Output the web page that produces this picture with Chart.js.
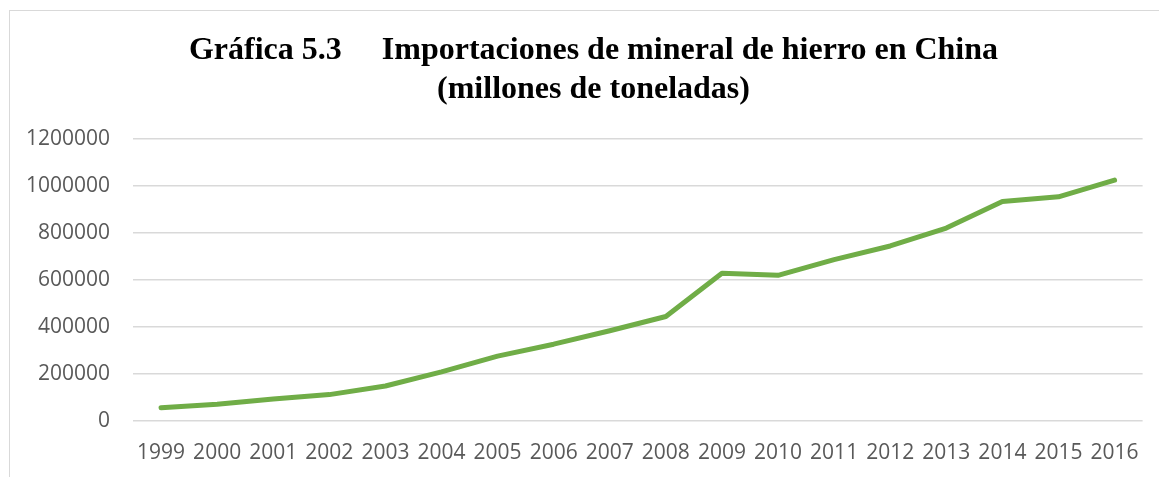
<!DOCTYPE html>
<html>
<head>
<meta charset="utf-8">
<script src="https://cdn.jsdelivr.net/npm/chart.js@4/dist/chart.umd.min.js"></script>
<style>
  html, body { margin: 0; padding: 0; background: #fff; }
  body { width: 1159px; height: 477px; position: relative; overflow: hidden; }
  #frame {
    position: absolute; left: 9px; top: 10px; width: 1200px; height: 520px;
    border-left: 1.5px solid #d9d9d9; border-top: 1.5px solid #d9d9d9;
  }
  #wrap { position: absolute; left: 0; top: 0; width: 1159px; height: 486px; }
</style>
</head>
<body>
<div id="frame"></div>
<div id="wrap"><canvas id="chart"></canvas></div>
<script>
  // Importaciones de mineral de hierro en China
  const years = ["1999", "2000", "2001", "2002", "2003", "2004", "2005", "2006", "2007",
                 "2008", "2009", "2010", "2011", "2012", "2013", "2014", "2015", "2016"];
  const imports = [55300, 70000, 92300, 111500, 148000, 208000, 275000, 326000, 383000,
                   444000, 628000, 619000, 686000, 744000, 820000, 933000, 953000, 1024000];
  // leading nbsp: title in the original sits a little right of the plot centre
  const titleLines = ["\u00a0\u00a0Gráfica 5.3     Importaciones de mineral de hierro en China",
                      "\u00a0\u00a0(millones de toneladas)"];

  const ctx = document.getElementById("chart");

  new Chart(ctx, {
    type: "line",
    data: {
      labels: years,
      datasets: [{
        data: imports,
        borderColor: "#70ad47",
        borderWidth: 5,
        borderCapStyle: "round",
        borderJoinStyle: "round",
        pointRadius: 0,
        tension: 0,
        fill: false,
      }],
    },
    options: {
      responsive: true,
      maintainAspectRatio: false,
      animation: false,
      layout: { padding: { left: 27, right: 15, top: 32, bottom: 0 } },
      plugins: {
        legend: { display: false },
        tooltip: { enabled: false },
        title: {
          display: true,
          text: titleLines,
          color: "#000",
          font: { family: "'Liberation Serif', 'Times New Roman', serif", size: 32, weight: "bold" },
          lineHeight: 1.12,
          padding: { top: 0, bottom: 30 },
        },
      },
      scales: {
        y: {
          min: 0,
          max: 1200000,
          ticks: {
            stepSize: 200000,
            color: "#595959",
            padding: 23,
            font: { family: "'Open Sans', sans-serif", size: 21 },
            callback: function (v) { return String(v); },
          },
          grid: { color: "#d9d9d9", lineWidth: 1.5, drawTicks: false },
          border: { display: false },
          afterFit: function (scale) { scale.width = 106; },
        },
        x: {
          offset: true,
          ticks: {
            color: "#595959",
            padding: 20,
            maxRotation: 0,
            autoSkip: false,
            font: { family: "'Open Sans', sans-serif", size: 21 },
          },
          grid: { display: false, drawTicks: false },
          border: { display: false },
        },
      },
    },
  });
</script>
</body>
</html>
